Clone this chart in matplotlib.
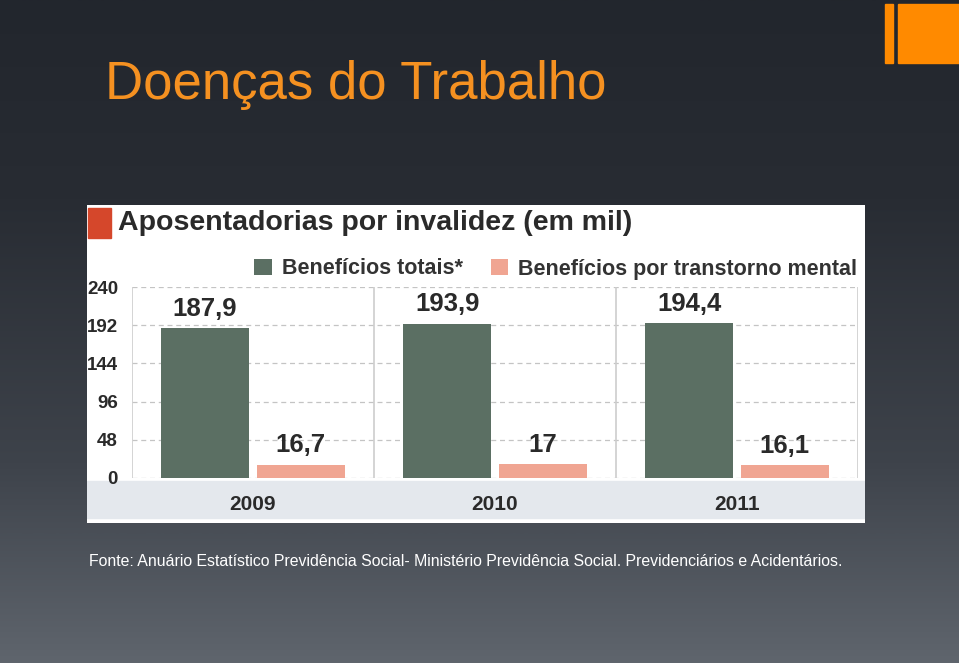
import numpy as np
import matplotlib
matplotlib.use("Agg")
from matplotlib import pyplot as plt
from matplotlib.patches import Rectangle
from matplotlib.colors import LinearSegmentedColormap

years = ["2009", "2010", "2011"]
totais = [187.9, 193.9, 194.4]
mental = [16.7, 17, 16.1]
yticks = [0, 48, 96, 144, 192, 240]

W, H = 959, 663
plt.rcParams["font.family"] = ["Liberation Sans", "DejaVu Sans"]

fig = plt.figure(figsize=(W / 100, H / 100), dpi=100)


def frac(x0, y0, x1, y1):
    # pixel box (top-left origin) -> figure fraction rect
    return [x0 / W, 1 - y1 / H, (x1 - x0) / W, (y1 - y0) / H]


# slide background gradient
bg = fig.add_axes([0, 0, 1, 1], zorder=0)
cmap = LinearSegmentedColormap.from_list(
    "slide", [(0, "#22262d"), (0.3, "#282c33"), (0.7, "#3e434b"), (1, "#5f656d")])
grad = np.linspace(0, 1, 256).reshape(-1, 1)
bg.imshow(grad, aspect="auto", cmap=cmap, extent=[0, 1, 0, 1], origin="upper")
bg.set_xlim(0, 1)
bg.set_ylim(0, 1)
bg.axis("off")

# orange corner bars
orange = "#ff8a00"
fig.patches.append(Rectangle((885 / W, 1 - 63 / H), 8 / W, 59 / H,
                             transform=fig.transFigure, color=orange, zorder=1))
fig.patches.append(Rectangle((898 / W, 1 - 63 / H), 61 / W, 59 / H,
                             transform=fig.transFigure, color=orange, zorder=1))

fig.text(105 / W, 1 - 99 / H, "Doenças do Trabalho", color="#f59121",
         fontsize=38, ha="left", va="baseline")

fig.text(89 / W, 1 - 562 / H,
         "Fonte: Anuário Estatístico Previdência Social- Ministério Previdência Social. "
         "Previdenciários e Acidentários.",
         color="white", fontsize=11.4, ha="left", va="center")

# chart image panel (white)
px0, py0, px1, py1 = 87, 205, 865, 523
panel = fig.add_axes(frac(px0, py0, px1, py1), zorder=2)
panel.set_xlim(0, px1 - px0)
panel.set_ylim(py1 - py0, 0)
panel.set_facecolor("white")
panel.set_xticks([])
panel.set_yticks([])
for s in panel.spines.values():
    s.set_visible(False)
panel.add_patch(Rectangle((1, 3), 23, 30, color="#d5472b"))
panel.text(31, 18, "Aposentadorias por invalidez (em mil)", fontsize=20.5,
           fontweight="bold", color="#2a2a2a", ha="left", va="center")
panel.add_patch(Rectangle((0, 276), px1 - px0, 37, color="#e4e8ed"))

# main chart
ax = fig.add_axes(frac(132, 287, 858, 478), zorder=3)
ax.set_facecolor("none")
x = np.arange(len(years))
bw = 0.364
off = 0.198
green = "#5b6f63"
pink = "#f0a592"
b1 = ax.bar(x - off, totais, bw, color=green, label="Benefícios totais*", zorder=3)
b2 = ax.bar(x + off, mental, bw, color=pink, label="Benefícios por transtorno mental", zorder=3)

fmt = lambda v: ("%g" % v).replace(".", ",")
for bars, vals in [(b1, totais), (b2, mental)]:
    for r, v in zip(bars, vals):
        ax.annotate(fmt(v), (r.get_x() + r.get_width() / 2, v), xytext=(0, 5.5),
                    textcoords="offset points", ha="center", va="bottom",
                    fontsize=18.5, fontweight="bold", color="#2a2a2a")

ax.set_xlim(-0.5, len(years) - 0.5)
ax.set_ylim(0, 240)
ax.set_yticks(yticks)
ax.set_xticks(x)
ax.set_xticklabels(years)
ax.tick_params(axis="both", length=0, labelsize=13.5, colors="#2a2a2a")
ax.tick_params(axis="y", pad=10)
ax.tick_params(axis="x", pad=12, labelsize=15)
for lab in ax.get_xticklabels() + ax.get_yticklabels():
    lab.set_fontweight("bold")
for t in yticks:
    ax.axhline(t, color="#c4c4c4", lw=0.9, ls=(0, (4, 3)), zorder=1)
for sep in np.arange(len(years) + 1) - 0.5:
    ax.axvline(sep, color="#cdcdcd", lw=1.2, zorder=1)
for s in ax.spines.values():
    s.set_visible(False)

ax.legend(loc="center right", bbox_to_anchor=(857 / W, 1 - 269 / H),
          bbox_transform=fig.transFigure, ncol=2, frameon=False,
          handlelength=0.8, handleheight=0.8,
          handletextpad=0.47, columnspacing=1.3, borderpad=0, borderaxespad=0,
          prop={"weight": "bold", "size": 15.5})
leg = ax.get_legend()
for t in leg.get_texts():
    t.set_color("#333333")

fig.savefig("out.png", dpi=100)
